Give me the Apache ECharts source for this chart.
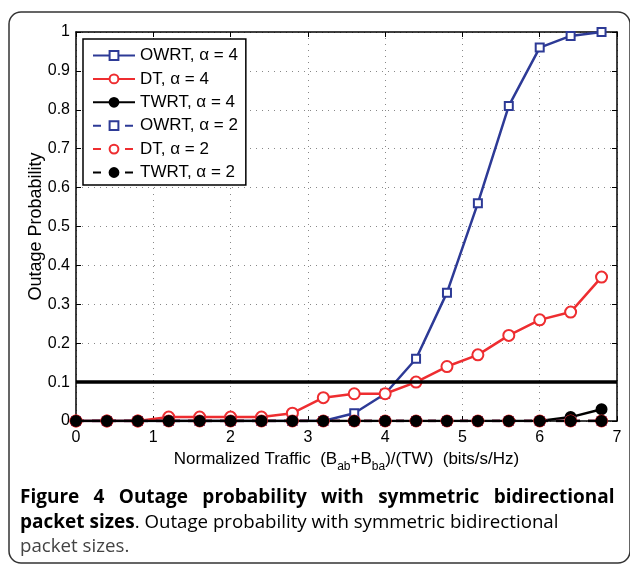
<!DOCTYPE html>
<html><head><meta charset="utf-8">
<script src="https://cdn.jsdelivr.net/npm/echarts@6/dist/echarts.min.js"></script>
<style>html,body{margin:0;padding:0;background:#fff}#c{width:630px;height:565px}</style>
</head><body><div id="c"></div>
<script>
const xValues = [0,0.4,0.8,1.2,1.6,2.0,2.4,2.8,3.2,3.6,4.0,4.4,4.8,5.2,5.6,6.0,6.4,6.8];
const owrt4 = [0,0,0,0,0,0,0,0,0,0.02,0.07,0.16,0.33,0.56,0.81,0.96,0.99,1.0];
const dt4   = [0,0,0,0.01,0.01,0.01,0.01,0.02,0.06,0.07,0.07,0.10,0.14,0.17,0.22,0.26,0.28,0.37];
const twrt4 = [0,0,0,0,0,0,0,0,0,0,0,0,0,0,0,0,0.01,0.03];
const owrt2 = [0,0,0,0,0,0,0,0,0,0,0,0,0,0,0,0,0,0];
const dt2   = [0,0,0,0,0,0,0,0,0,0,0,0,0,0,0,0,0,0];
const twrt2 = [0,0,0,0,0,0,0,0,0,0,0,0,0,0,0,0,0,0];
const threshold = 0.1;
const xTicks = [0,1,2,3,4,5,6,7];
const yTicks = [0,0.1,0.2,0.3,0.4,0.5,0.6,0.7,0.8,0.9,1];
const names = ['OWRT, α = 4','DT, α = 4','TWRT, α = 4','OWRT, α = 2','DT, α = 2','TWRT, α = 2'];
const captionWords = ['Figure','4','Outage','probability','with','symmetric','bidirectional'];

const BLUE='#2d3a96', RED='#ee2d30', BLACK='#000';
const pair = arr => xValues.map((x,i)=>[x,arr[i]]);
const styles = [
  {d:owrt4,c:BLUE,sym:'emptyRect',sz:8,t:'solid'},
  {d:dt4,c:RED,sym:'emptyCircle',sz:11,t:'solid'},
  {d:twrt4,c:BLACK,sym:'circle',sz:10,t:'solid'},
  {d:owrt2,c:BLUE,sym:'emptyRect',sz:8,t:[8,8]},
  {d:dt2,c:RED,sym:'emptyCircle',sz:11,t:[8,8]},
  {d:twrt2,c:BLACK,sym:'circle',sz:10,t:[8,8]}
];
const series = styles.map((s,i)=>({
  name:names[i], type:'line', data:pair(s.d), symbol:s.sym, symbolSize:s.sz,
  lineStyle:{color:s.c,width:2.5,type:s.t},
  itemStyle:{color:s.c,borderColor:s.c,borderWidth:2},
  z:3+i, animation:false
}));
series[0].markLine = {silent:true,symbol:'none',label:{show:false},
  lineStyle:{color:'#000',width:3.5,type:'solid'},data:[{yAxis:threshold}],animation:false};

const captionLine1 = captionWords.map(w=>'{b|'+w+'}').join('{g| }');

const font='Liberation Sans';
const chart = echarts.init(document.getElementById('c'));
chart.setOption({
  animation:false,
  textStyle:{fontFamily:font},
  grid:{left:76,top:32,right:13,bottom:144},
  legend:{orient:'vertical',left:83,top:39,data:names,
    itemWidth:42,itemHeight:11,itemGap:6.4,padding:[8,8,4,9],
    backgroundColor:'#fff',borderColor:'#000',borderWidth:1.5,
    textStyle:{fontFamily:font,fontSize:17,lineHeight:17,color:'#000'}},
  xAxis:[{type:'value',min:0,max:7,interval:1,
    axisLine:{show:true,onZero:false,lineStyle:{color:'#000',width:1.5}},
    axisTick:{inside:true,length:5,lineStyle:{color:'#000'}},
    axisLabel:{color:'#000',fontSize:16,margin:9,formatter:v=>xTicks.includes(v)?String(v):''},
    splitLine:{show:true,lineStyle:{color:'#888',type:[1,5],width:1}},
    name:'{n|Normalized Traffic  (B}{s|ab}{n|+B}{s|ba}{n|)/(TW)  (bits/s/Hz)}',
    nameLocation:'middle',nameGap:25,
    nameTextStyle:{rich:{
      n:{fontFamily:font,fontSize:17,color:'#000',lineHeight:20,verticalAlign:'top'},
      s:{fontFamily:font,fontSize:12,color:'#000',lineHeight:20,verticalAlign:'top',padding:[10,0,0,0]}}}},
   {type:'value',position:'top',min:0,max:7,interval:1,
    axisLine:{show:true,onZero:false,lineStyle:{color:'#000',width:1.5}},
    axisTick:{inside:true,length:5,lineStyle:{color:'#000'}},
    axisLabel:{show:false},splitLine:{show:false}}],
  yAxis:[{type:'value',min:0,max:1,interval:0.1,
    axisLine:{show:true,onZero:false,lineStyle:{color:'#000',width:1.5}},
    axisTick:{inside:true,length:5,lineStyle:{color:'#000'}},
    axisLabel:{color:'#000',fontSize:16,margin:6,
      formatter:v=>{const r=Math.round(v*10)/10;return yTicks.includes(r)?String(r):'';}},
    splitLine:{show:true,lineStyle:{color:'#888',type:[1,5],width:1}},
    name:'Outage Probability',nameLocation:'middle',nameGap:31,nameMoveOverlap:false,
    nameTextStyle:{fontFamily:font,fontSize:18,color:'#000'}},
   {type:'value',position:'right',min:0,max:1,interval:0.1,
    axisLine:{show:true,onZero:false,lineStyle:{color:'#000',width:1.5}},
    axisTick:{inside:true,length:5,lineStyle:{color:'#000'}},
    axisLabel:{show:false},splitLine:{show:false}}],
  series:series,
  graphic:[
    {type:'rect',silent:true,z:-1,shape:{x:9,y:12,width:621,height:551,r:12},
     style:{fill:'none',stroke:'#333',lineWidth:1.5}},
    {type:'text',left:20,top:488,silent:true,
     style:{text:captionLine1,
       rich:{b:{fontFamily:'Open Sans',fontWeight:'bold',fontSize:19,color:'#222'},
             g:{fontFamily:'Open Sans',fontSize:19,width:14.3}}}},
    {type:'text',left:20,top:513,silent:true,
     style:{text:'{b|packet sizes}{r|. Outage probability with symmetric bidirectional}',
       rich:{b:{fontFamily:'Open Sans',fontWeight:'bold',fontSize:19,color:'#222'},
             r:{fontFamily:'Open Sans',fontSize:18.7,color:'#444'}}}},
    {type:'text',left:20,top:537,silent:true,
     style:{text:'packet sizes.',font:'18.7px "Open Sans"',fill:'#444'}}
  ]
});
</script></body></html>
